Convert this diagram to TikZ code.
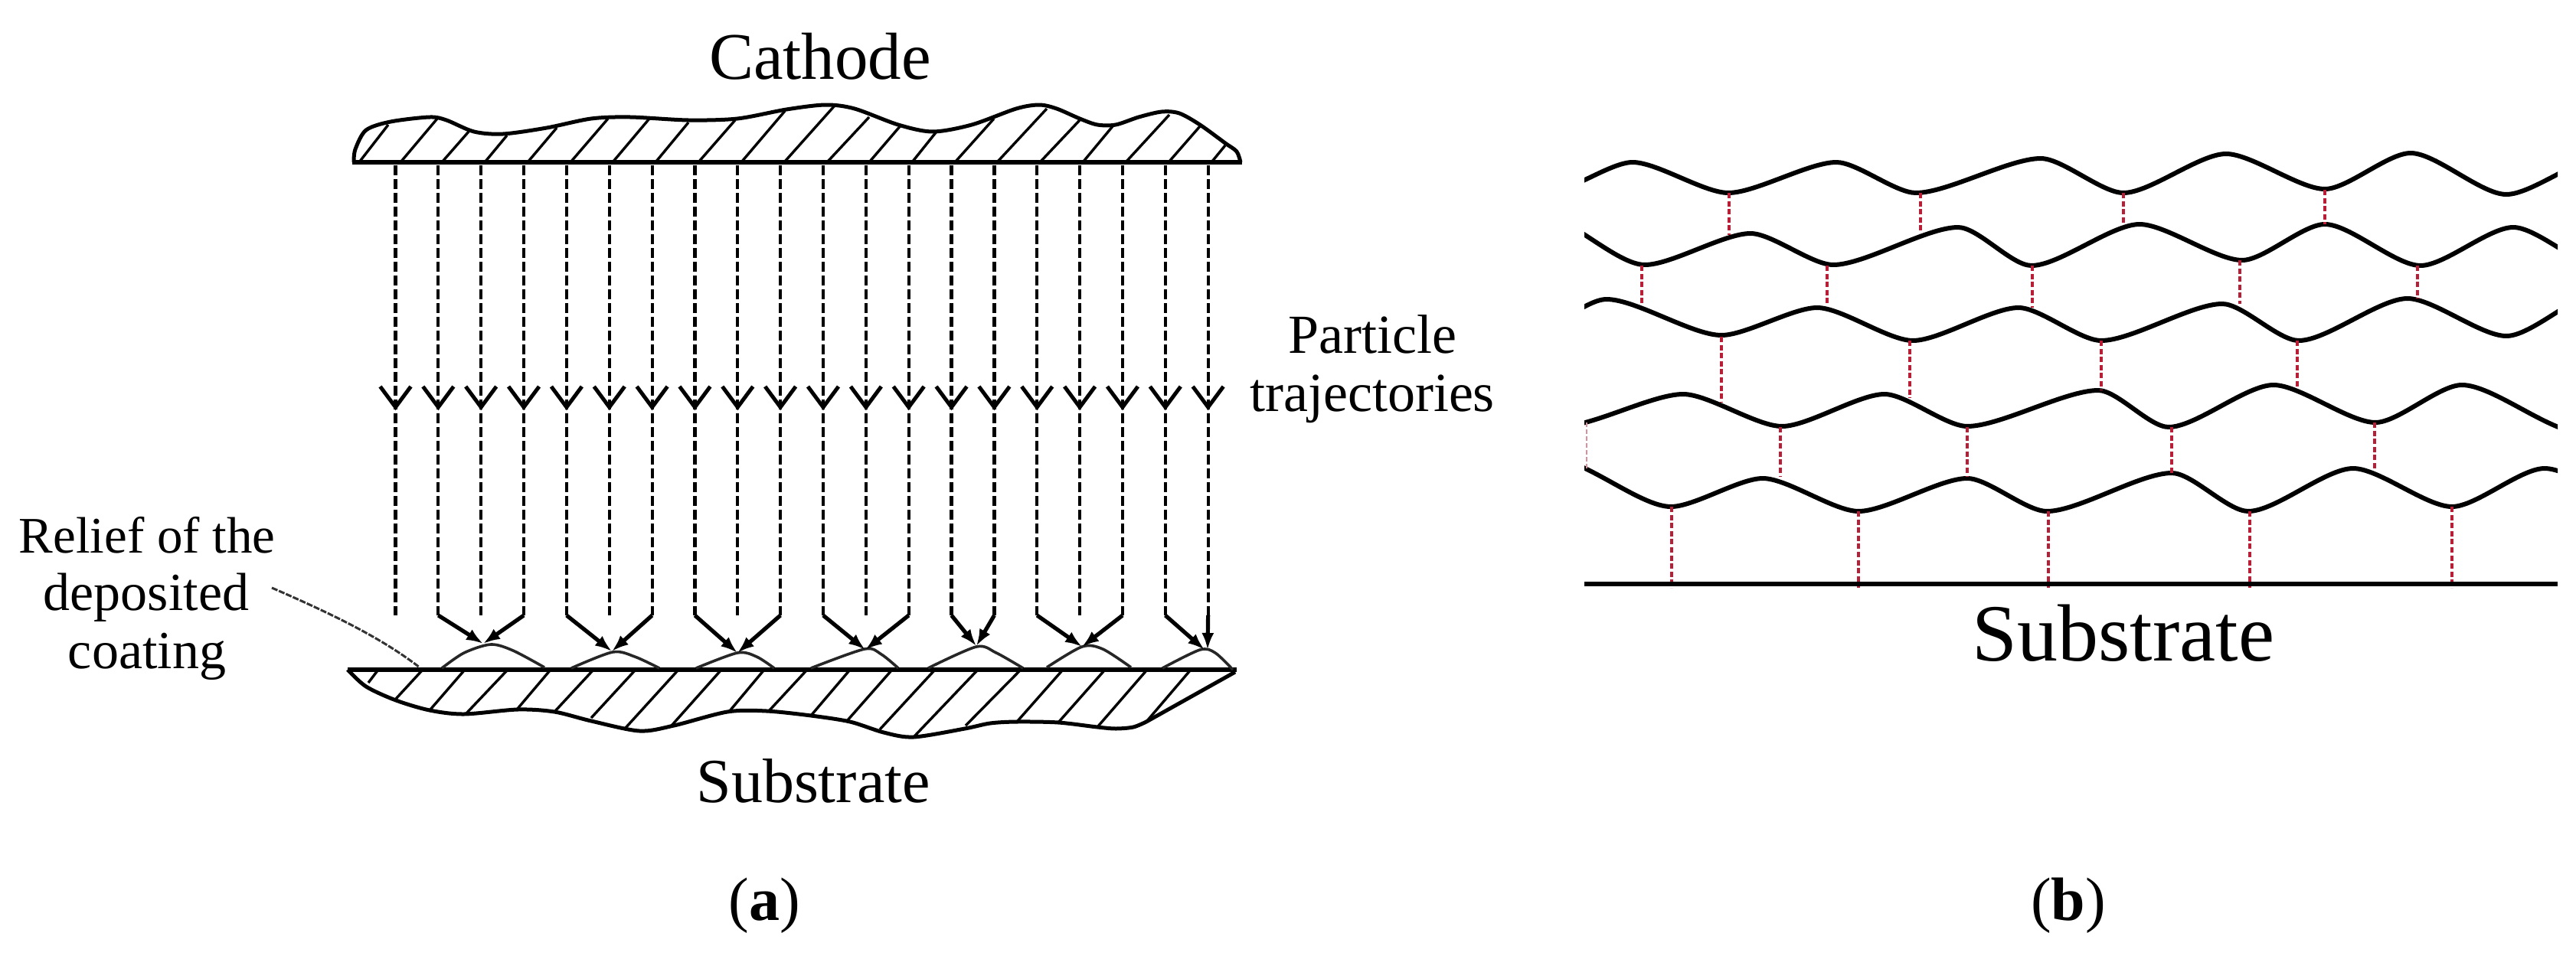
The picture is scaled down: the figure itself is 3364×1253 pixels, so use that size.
\documentclass[tikz,border=0pt]{standalone}
\usepackage{fontspec}
\setmainfont{Liberation Serif}
\usetikzlibrary{arrows.meta,calc}
\definecolor{bondred}{RGB}{185,30,55}
\tikzset{
  label text/.style={inner sep=0pt,outer sep=0pt,anchor=base,text=black},
  plate/.style={line width=3.2pt,black},
  profile/.style={line width=2.5pt,black,line join=round},
  hatch/.style={line width=1.7pt,black},
  particle/.style={line width=2.1pt,black,dash pattern=on 6.5pt off 2.5pt},
  vee/.style={line width=2.5pt,black,line join=miter},
  hit/.style={line width=2.6pt,black,-{Latex[length=11pt,width=8pt]}},
  relief/.style={line width=1.8pt,black!85,line join=round},
  leader/.style={line width=1.5pt,black!80,dash pattern=on 4pt off 1pt},
  wave/.style={line width=3pt,black,line join=round},
  wv/.style={out=0,in=180,looseness=0.62},
  bond/.style={line width=1.6pt,bondred,dash pattern=on 3.5pt off 1.8pt},
  faintbond/.style={line width=1.2pt,bondred!50,dash pattern=on 3pt off 1.5pt}
}
\begin{document}
\begin{tikzpicture}[x=0.5pt,y=-0.5pt]
\useasboundingbox (0,0) rectangle (3364,1253);
\fill[white] (0,0) rectangle (3364,1253);

% ---------- panel (a): labels
\node[label text,font=\fontsize{43.5}{45}\selectfont] (cathode) at (1071,103) {Cathode};
\node[label text,font=\fontsize{41}{45}\selectfont] (subA) at (1062,1048) {Substrate};
\node[label text,font=\fontsize{36}{38}\selectfont] (particle) at (1792,461) {Particle};
\node[label text,font=\fontsize{36}{38}\selectfont] (traj) at (1792,537) {trajectories};
\node[label text,font=\fontsize{33.5}{38}\selectfont] (rel1) at (192,722) {Relief of the};
\node[label text,font=\fontsize{35}{38}\selectfont] (rel2) at (191,797) {deposited};
\node[label text,font=\fontsize{35}{38}\selectfont] (rel3) at (192,873) {coating};
\node[label text,font=\fontsize{40}{44}\selectfont] (capA) at (998,1202) {(\textbf{a})};
\node[label text,font=\fontsize{40}{44}\selectfont] (capB) at (2701,1202) {(\textbf{b})};

% ---------- cathode plate
\draw[profile] plot[smooth,tension=.5] coordinates {(462,212) (464,195) (478,170) (510,159) (561,153) (583,157) (619,172) (657,175) (714,167) (772,155) (823,153) (899,157) (963,155) (1027,143) (1078,137) (1116,142) (1173,163) (1218,172) (1269,163) (1327,142) (1357,137) (1380,142) (1410,155) (1433,163) (1457,163) (1487,153) (1517,146) (1540,148) (1567,163) (1600,187) (1615,198) (1620,212)};
\foreach \bx/\tx/\ty in {469/507/163,523/571/155,577/612/172,633/662/177,689/727/167,745/794/155,800/848/155,856/899/160,912/960/157,968/1025/145,1024/1090/138,1080/1135/153,1135/1177/163,1191/1223/172,1247/1298/155,1302/1367/142,1358/1410/157,1414/1453/165,1470/1527/150,1526/1567/165,1582/1600/190}
  \draw[hatch] (\bx,212) -- (\tx,\ty);
\draw[plate] (460,212) -- (1622,212);

% ---------- substrate plate
\draw[profile] plot[smooth,tension=.5] coordinates {(454,875) (478,897) (517,915) (561,928) (606,933) (676,927) (724,930) (772,942) (835,955) (880,948) (950,930) (1001,929) (1059,935) (1110,943) (1154,957) (1193,963) (1260,952) (1293,945) (1328,943) (1382,944) (1433,950) (1457,952) (1480,950) (1497,943)};
\draw[profile] (1497,943) -- (1613,878);
\foreach \bx/\ex/\ey in {494/481/892,552/517/913,607/562/927,663/609/932,719/675/927,775/725/929,830/772/938,886/816/952,942/877/948,998/952/930,1054/1004/929,1110/1059/935,1165/1106/942,1221/1149/953,1277/1194/962,1333/1261/948,1388/1328/943,1443/1382/944,1498/1433/950,1555/1497/943}
  \draw[hatch] (\bx,875) -- (\ex,\ey);
\draw[plate] (454,875) -- (1615,875);

% ---------- coating relief
\draw[relief] plot[smooth,tension=.5] coordinates {(577,873) (606,853) (641,842) (670,850) (711,872)};
\draw[relief] plot[smooth,tension=.5] coordinates {(746,873) (800,852) (829,858) (861,873)};
\draw[relief] plot[smooth,tension=.5] coordinates {(909,873) (963,853) (988,858) (1011,873)};
\draw[relief] plot[smooth,tension=.5] coordinates {(1059,873) (1129,848) (1151,855) (1173,873)};
\draw[relief] plot[smooth,tension=.5] coordinates {(1212,873) (1275,845) (1301,853) (1336,873)};
\draw[relief] plot[smooth,tension=.5] coordinates {(1367,872) (1413,845) (1440,848) (1477,872)};
\draw[relief] plot[smooth,tension=.5] coordinates {(1518,873) (1567,849) (1587,853) (1610,875)};

% leader from label to the coating
\coordinate (leadStart) at (355,768);
\coordinate (leadEnd) at (548,872);
\draw[leader] (leadStart) .. controls (440,805) and (500,835) .. (leadEnd);

% ---------- particle trajectories
\foreach \i in {0,...,19}{
  \pgfmathsetmacro{\px}{516.5+55.85*\i}
  \coordinate (top\i) at (\px,216);
  \coordinate (mid\i) at (\px,532);
  \coordinate (low\i) at (\px,804);
  \draw[vee] (\px-20,505) -- (mid\i) -- (\px+20,505);
  \draw[particle] (top\i) -- (low\i);
}
% lines that bend towards a relief peak
\foreach \i/\tx/\ty in {1/631/841,3/631/841,4/799/851,6/799/851,7/963/853,9/963/853,10/1130/849,12/1130/849,13/1275/844,14/1275/844,15/1413/845,17/1413/845,18/1573/849,19/1577/849}{
  \coordinate (tip\i) at (\tx,\ty);
  \draw[hit] (low\i) -- (tip\i);
}

% ---------- panel (b)
\begin{scope}
\clip (2069,150) rectangle (3340,700);
\draw[wave] (2020,252) to[wv] (2132,212) to[wv] (2257,252) to[wv] (2398,212) to[wv] (2502,252) to[wv] (2665,207) to[wv] (2773,252) to[wv] (2907,201) to[wv] (3036,247) to[wv] (3148,200) to[wv] (3273,254) to[wv] (3400,205);
\draw[wave] (2010,280) to[wv] (2148,346) to[wv] (2286,305) to[wv] (2394,346) to[wv] (2557,297) to[wv] (2653,347) to[wv] (2794,293) to[wv] (2928,340) to[wv] (3036,293) to[wv] (3161,347) to[wv] (3282,297) to[wv] (3400,350);
\draw[wave] (1990,440) to[wv] (2098,391) to[wv] (2248,438) to[wv] (2373,402) to[wv] (2498,445) to[wv] (2636,402) to[wv] (2744,445) to[wv] (2902,397) to[wv] (3002,445) to[wv] (3144,390) to[wv] (3273,439) to[wv] (3400,380);
\draw[wave] (2040,557) to[wv] (2198,515) to[wv] (2327,557) to[wv] (2461,515) to[wv] (2569,557) to[wv] (2740,510) to[wv] (2832,558) to[wv] (2969,503) to[wv] (3102,552) to[wv] (3215,503) to[wv] (3370,565);
\draw[wave] (2030,600) to[wv] (2182,662) to[wv] (2302,625) to[wv] (2427,668) to[wv] (2569,625) to[wv] (2673,668) to[wv] (2836,618) to[wv] (2936,668) to[wv] (3073,612) to[wv] (3202,662) to[wv] (3323,612) to[wv] (3450,660);
\end{scope}

% bonds between layers
\foreach \xa/\ya/\xb/\yb in {2258/252/2258/307,2508/252/2508/305,2773/252/2773/292,3036/248/3036/293,
  2144/347/2144/397,2386/347/2386/397,2654/347/2654/402,2925/340/2925/397,3157/347/3157/390,
  2248/440/2248/525,2494/445/2494/520,2744/445/2744/510,3000/445/3000/505,
  2325/558/2325/623,2569/558/2569/622,2836/558/2836/618,3101/552/3101/613,
  2183/662/2183/768,2427/668/2427/768,2675/668/2675/768,2938/668/2938/768,3202/662/3202/768}
  \draw[bond] (\xa,\ya) -- (\xb,\yb);
\draw[faintbond] (2072,552) -- (2072,615);

% substrate of panel (b)
\coordinate (subL) at (2069,763);
\coordinate (subR) at (3340,763);
\draw[line width=3.4pt,black] (subL) -- (subR);
\node[label text,font=\fontsize{53}{56}\selectfont] (subB) at (2773,863) {Substrate};
\end{tikzpicture}
\end{document}
